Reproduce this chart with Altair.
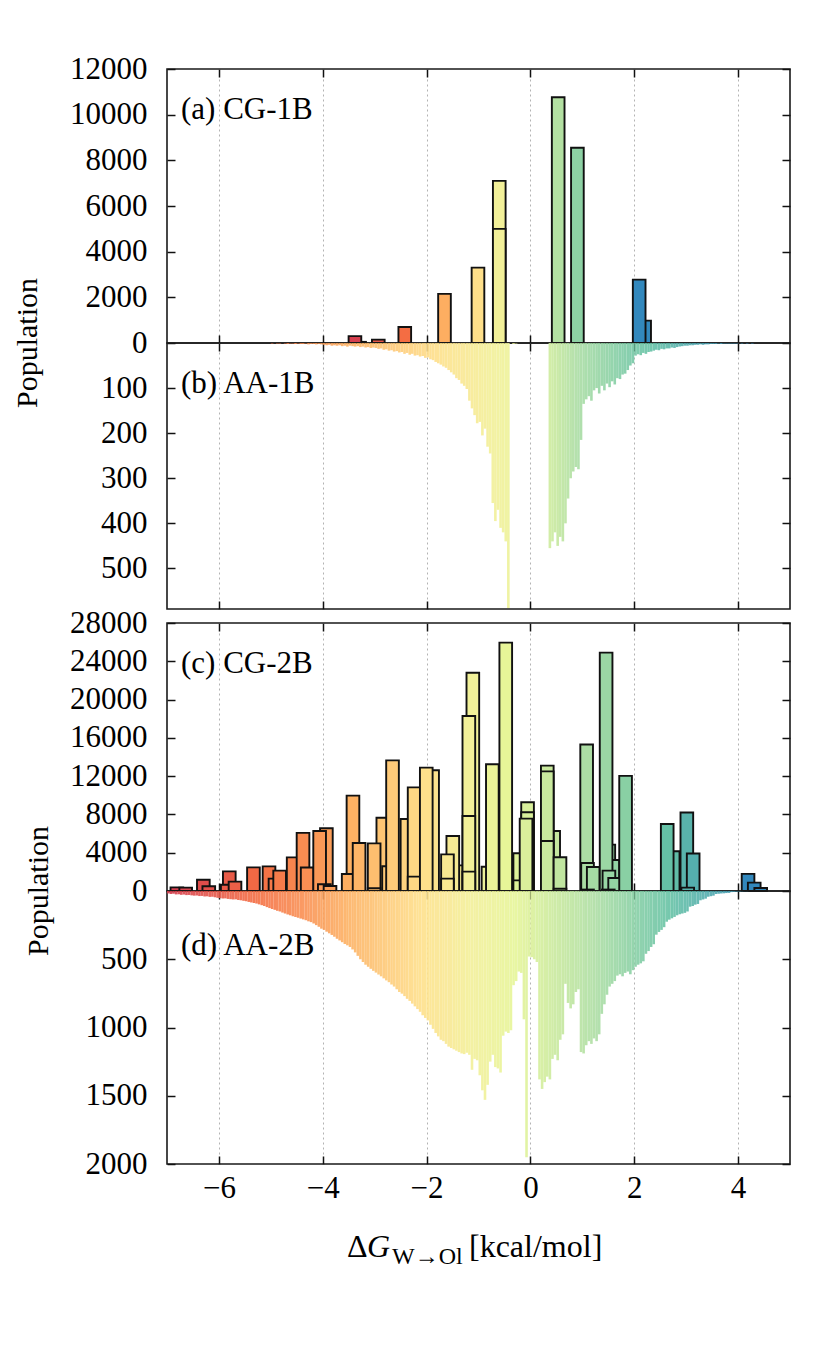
import altair as alt
import numpy as np
import pandas as pd

FONT = "Liberation Serif"

# ---------------- data ----------------
# (a) CG-1B : bar centres [kcal/mol] and populations, in drawing order
cg1b_center = [-3.29, -3.38, -2.93, -2.42, -1.655, -1.01, -0.60, -0.60, 0.535, 0.905, 2.20, 2.095]
cg1b_height = [50, 300, 150, 700, 2150, 3300, 7100, 5000, 10760, 8550, 980, 2775]

# (c) CG-2B : bar centres and populations, in drawing order
cg2b_center = [-6.81, -6.64, -6.30, -6.195, -5.80, -5.84, -5.69, -5.335,
               -5.035, -4.92, -4.83, -4.57, -4.38, -4.30, -3.93, -4.06, -3.97, -3.86,
               -3.418, -3.51, -3.30, -2.843, -3.01, -3.01, -2.733, -2.656,
               -2.378, -2.24, -2.24, -1.884, -2.006,
               -1.40, -1.495, -1.598, -1.598, -1.109, -1.186, -1.186, -1.186,
               -0.817, -0.733, -0.475, -0.206, -0.206, -0.055, -0.055, -0.084,
               0.448, 0.325, 0.325, 0.325, 0.57, 0.57,
               1.083, 1.10, 1.21, 1.10, 1.51, 1.59, 1.458, 1.512, 1.622, 1.50, 1.833,
               2.75, 2.635, 3.013, 3.135, 3.03,
               4.192, 4.311, 4.436]
cg2b_height = [380, 350, 1180, 490, 2050, 660, 975, 2470,
               2570, 1290, 2130, 3510, 6070, 2456, 6550, 6270, 700, 520,
               9960, 1776, 5015, 7660, 4980, 280, 2580, 13650,
               7520, 10830, 1500, 12610, 12890,
               2680, 5750, 3830, 1290, 22810, 18290, 7840, 2020,
               2540, 13240, 25950, 3940, 1110, 9265, 8220, 7560,
               6270, 13100, 12500, 5220, 3520, 240,
               15300, 2930, 2510, 150, 4840, 3240, 24900, 2130, 1360, 150, 12030,
               4150, 7000, 8200, 3920, 350,
               1790, 875, 315]
cg_bar_width = 0.244

# (b) AA-1B histogram: bins of 0.05 kcal/mol starting at -5.0
aa1b_start = -5.0
aa1b_values = [1, 0, 1, 1, 0, 1, 2, 1, 1, 2, 1, 2, 2, 1, 3, 2, 2, 3, 2, 3,
               4, 5, 4, 6, 5, 6, 5, 7, 6, 8, 6, 7, 8, 7, 9, 8, 10, 9, 11, 10,
               11, 13, 12, 15, 14, 17, 16, 19, 18, 21,
               20, 24, 22, 26, 24, 28, 27, 30, 29, 33,
               32, 36, 38, 42, 45, 48, 52, 55, 60, 65,
               70, 78, 82, 90, 95, 102,
               128, 145, 160, 178,
               175, 205, 190, 230, 245,
               355, 395, 370, 410, 420, 440,
               588,
               0, 2, 1, 0, 0, 0, 0, 0, 0, 0, 0, 0, 0, 0, 0,
               455, 440, 420, 450, 430, 440, 400, 345, 300, 285, 275, 280, 215,
               135, 125, 118, 128, 105, 100, 112, 95, 105, 90,
               98, 85, 92, 78, 80, 70, 68, 60, 50, 45,
               28, 25, 27, 22, 24, 20, 19,
               17, 15, 16, 13, 14, 12, 12, 10, 11, 9, 8,
               7, 6, 6, 5, 5, 4, 4, 3, 4, 3, 3, 2, 2,
               2, 1, 2, 1, 1, 1, 1, 1, 1, 0, 1, 0, 1, 0, 1]

# (d) AA-2B histogram: bins of 0.05 kcal/mol starting at -7.0
aa2b_start = -7.0
aa2b_values = [18, 22, 20, 25, 24, 28, 26, 30, 29, 32,
               34, 33, 37, 36, 40, 39, 43, 42, 46, 50,
               52, 55, 54, 58, 60, 62, 61, 66, 68, 72,
               75, 80, 84, 88, 92, 98, 104, 110, 118, 125,
               132, 138, 145, 150, 158, 165, 172, 178, 185, 190,
               196, 202, 208, 214, 222, 228, 238, 250, 262, 276,
               285, 298, 310, 322, 335, 350, 362, 375, 388, 398,
               410, 428, 450, 475, 500, 520, 540, 555, 570, 585,
               598, 612, 625, 640, 655, 668, 685, 700, 720, 740,
               752, 770, 790, 805, 825, 845, 865, 885, 910, 930,
               948, 980, 1010, 1040, 1065, 1090, 1100, 1120, 1140, 1150,
               1160, 1170, 1180, 1190, 1195, 1185, 1200, 1310, 1230, 1240,
               1350, 1460, 1530, 1420, 1250, 1200, 1290, 1300, 1330, 1060,
               1030, 1040, 1020, 690, 660, 590, 600, 940, 1950, 480,
               485, 500, 520, 1380, 1450, 1400, 1360, 1380, 1230, 1200,
               1240, 1090, 1050, 680, 820, 860, 830, 740, 720, 1180,
               1190, 1130, 1100, 1120, 1080, 1100, 1050, 900, 830, 760,
               700, 680, 660, 620, 610, 625, 600, 590, 610, 580,
               555, 540, 530, 515, 460, 440, 410, 390, 320, 300,
               285, 265, 225, 210, 200, 190, 178, 170, 165, 160,
               150, 115, 110, 100, 95, 68, 62, 56, 42, 38,
               34, 22, 20, 18, 17, 15, 14, 8, 6, 4,
               3, 2, 1, 1]
aa_bin_width = 0.05

x_ticks = [-6, -4, -2, 0, 2, 4]
ya_ticks = [0, 2000, 4000, 6000, 8000, 10000, 12000]
yb_ticks = [100, 200, 300, 400, 500]
yc_ticks = [0, 4000, 8000, 12000, 16000, 20000, 24000, 28000]
yd_ticks = [500, 1000, 1500, 2000]

# colour stops (Spectral-like) and the ΔG values they sit at, per panel
stop_colors = ["#d53e4f", "#f46d43", "#fdae61", "#fee08b", "#f2f099",
               "#e6f598", "#abdda4", "#66c2a5", "#3288bd"]
stops_a = [-3.4, -2.42, -1.65, -1.0, -0.6, 0.1, 0.6, 1.3, 2.1]
stops_b = [-6.5, -5.2, -3.6, -1.8, -0.7, 0.0, 0.9, 2.3, 4.3]
stops_c = [-6.8, -5.2, -3.5, -2.0, -1.2, -0.4, 1.1, 2.6, 4.2]
stops_d = [-7.0, -5.3, -3.6, -2.1, -1.1, -0.3, 1.3, 2.7, 4.6]

# ---------------- layout ----------------
W = 623
HA, HB, HC, HD = 274, 266, 268, 273
XS = alt.Scale(domain=[-7, 5], nice=False, zero=False)


def ax(**kw):
    base = dict(tickSize=8, offset=-8, domain=False, tickColor="#111111", tickWidth=1.5,
                labelFont=FONT, labelFontSize=31, labelColor="black", title=None)
    base.update(kw)
    return alt.Axis(**base)


def cg_df(centers, heights):
    return pd.DataFrame({"c": centers, "h": heights})


def aa_df(start, values):
    n = len(values)
    return pd.DataFrame({"x0": start + aa_bin_width * np.arange(n), "h": values})


def panel(df, kind, ydomain, yreverse, yticks, h, stops, label, label_y,
          xlabels=False, extra=None):
    ys = alt.Scale(domain=ydomain, reverse=yreverse, nice=False, zero=False)
    cs = alt.Scale(domain=stops, range=stop_colors, interpolate="rgb", clamp=True)
    if kind == "cg":
        base = alt.Chart(df).transform_calculate(
            x0=f"datum.c - {cg_bar_width / 2}",
            x1=f"datum.c + {cg_bar_width / 2}",
            xc="datum.c")
        mk = base.mark_rect(stroke="#111111", strokeWidth=1.9)
    else:
        base = alt.Chart(df).transform_calculate(
            x1=f"datum.x0 + {aa_bin_width}",
            xc=f"datum.x0 + {aa_bin_width / 2}")
        mk = base.mark_rect(opacity=0.9)
    xb = ax(orient="bottom", values=x_ticks, labels=xlabels, format="d", labelPadding=9,
            grid=True, gridDash=[2, 3], gridColor="#a0a0a0", gridWidth=0.8)
    xt = ax(orient="top", values=x_ticks, labels=False, grid=False)
    yl = ax(orient="left", values=yticks, format="d", labelPadding=20, grid=False)
    yr = ax(orient="right", values=yticks, labels=False, grid=False)
    main = mk.encode(
        x=alt.X("x0:Q", scale=XS, axis=xb),
        x2="x1:Q",
        y=alt.Y("h:Q", scale=ys, axis=yl),
        y2=alt.datum(0),
        color=alt.Color("xc:Q", scale=cs, legend=None),
    )
    mirror = base.mark_point(opacity=0).encode(
        x=alt.X("x0:Q", scale=XS, axis=xt),
        y=alt.Y("h:Q", scale=ys, axis=yr),
    )
    lab = alt.Chart(pd.DataFrame({"t": [label]})).mark_text(
        align="left", baseline="alphabetic", font=FONT, fontSize=31, color="black"
    ).encode(text="t:N", x=alt.value(14), y=alt.value(label_y))
    layers = [main, mirror, lab] + (extra or [])
    return alt.layer(*layers).resolve_axis(x="independent", y="independent").properties(
        width=W, height=h)


def txt(s, x, y, size=31, style="normal", angle=0, align="left", baseline="alphabetic"):
    kw = dict(align=align, baseline=baseline, font=FONT, fontSize=size,
              fontStyle=style, color="black")
    if angle:
        kw["angle"] = angle
    return alt.Chart(pd.DataFrame({"t": [s]})).mark_text(**kw).encode(
        text="t:N", x=alt.value(x), y=alt.value(y))


pop_a = txt("Population", -139, HA, size=30, angle=270, align="center", baseline="middle")
pop_c = txt("Population", -128, HC, size=30, angle=270, align="center", baseline="middle")

xtitle = [
    txt("Δ", 180, 366, size=32),
    txt("G", 200, 366, size=32, style="italic"),
    txt("W→Ol", 225, 373, size=24),
    txt("[kcal/mol]", 302, 366, size=32),
]

pa = panel(cg_df(cg1b_center, cg1b_height), "cg", [0, 12000], False, ya_ticks, HA,
           stops_a, "(a) CG-1B", 50, extra=[pop_a])
pb = panel(aa_df(aa1b_start, aa1b_values), "aa", [0, 590], True, yb_ticks, HB,
           stops_b, "(b) AA-1B", 50)
pc = panel(cg_df(cg2b_center, cg2b_height), "cg", [0, 28000], False, yc_ticks, HC,
           stops_c, "(c) CG-2B", 50, extra=[pop_c])
pd_ = panel(aa_df(aa2b_start, aa2b_values), "aa", [0, 2000], True, yd_ticks, HD,
            stops_d, "(d) AA-2B", 64, xlabels=True, extra=xtitle)

spacer = alt.Chart(pd.DataFrame({"s": [0]})).mark_point(opacity=0).encode(
    x=alt.value(0), y=alt.value(0)
).properties(width=W, height=14, view=alt.ViewBackground(stroke="transparent"))

chart = alt.vconcat(pa, pb, spacer, pc, pd_, spacing=0, bounds="flush").resolve_scale(
    color="independent"
).configure_view(
    stroke="#1a1a1a", strokeWidth=1.6
).properties(
    padding={"left": 4, "top": 44, "right": 10, "bottom": 10},
    background="white",
)

chart.save("out.html", embed_options={"renderer": "svg", "actions": False})
